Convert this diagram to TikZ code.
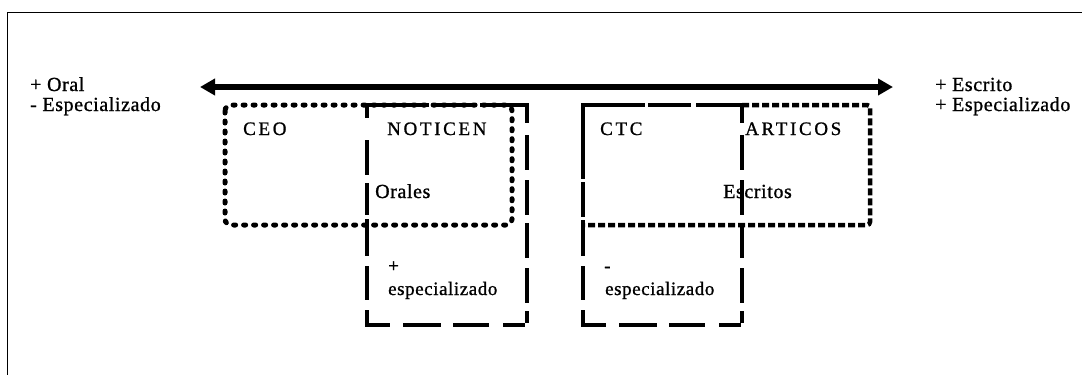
\documentclass[tikz,border=0pt]{standalone}
\usepackage{fontspec}
\setmainfont{Liberation Serif}
\newfontfamily\lblfont[LetterSpace=3, FakeBold=1]{Liberation Serif}
\newfontfamily\capfont[LetterSpace=14, FakeBold=1]{Liberation Serif}
\usetikzlibrary{arrows.meta}
\tikzset{
  lbl/.style={anchor=base west, inner sep=0pt, font=\lblfont\fontsize{20pt}{22pt}\selectfont},
  innerlbl/.style={anchor=base west, inner sep=0pt, font=\lblfont\fontsize{20pt}{22pt}\selectfont},
  smalllbl/.style={anchor=base west, inner sep=0pt, font=\lblfont\fontsize{19pt}{21pt}\selectfont},
  caps/.style={anchor=base west, inner sep=0pt, font=\capfont\fontsize{19pt}{21pt}\selectfont},
  frameline/.style={line width=1.5pt, black},
  bigarrow/.style={line width=6pt, {Triangle[length=15pt,width=16pt]}-{Triangle[length=15pt,width=16pt]}},
  dotbox/.style={line width=5pt, line cap=round, dash pattern=on 2pt off 8pt, rounded corners=6pt},
  dashbox/.style={line width=4.5pt, line cap=rect},
  hzA/.style={dashbox, dash pattern=on 59.5pt off 7.5pt on 38.5pt off 9.5pt on 40.5pt},
  hzB/.style={dashbox, dash pattern=on 20.5pt off 17.5pt on 33.5pt off 16.5pt on 31.5pt off 18.5pt on 17.5pt},
  vtA/.style={dashbox, dash pattern=on 15.5pt off 16.5pt on 30.5pt off 14.5pt on 30.5pt off 12.5pt on 30.5pt off 14.5pt on 30.5pt off 12.5pt on 7.5pt},
  vtB/.style={dashbox, dash pattern=on 10.5pt off 26.5pt on 30.5pt off 12.5pt on 27.5pt off 8.5pt on 32.5pt off 14.5pt on 29.5pt off 14.5pt on 8.5pt},
  vtC/.style={dashbox, dash pattern=on 71.5pt off 7.5pt on 30.5pt off 7.5pt on 31.5pt off 14.5pt on 29.5pt off 14.5pt on 8.5pt},
  dashdot/.style={line width=4.5pt, dash pattern=on 7pt off 3pt, rounded corners=3pt},
}
\begin{document}
\begin{tikzpicture}[x=1pt,y=-1pt]
\useasboundingbox (0,0) rectangle (1082,375);
% frame
\coordinate (fTR) at (1082,12.5);
\coordinate (fTL) at (7.5,12.5);
\coordinate (fBL) at (7.5,375);
\draw[frameline] (fTR) -- (fTL) -- (fBL);
% axis arrow
\coordinate (aL) at (200,87);
\coordinate (aR) at (893,87);
\draw[bigarrow] (aL) -- (aR);
% side labels
\node[lbl] (oral) at (30,91) {+ Oral};
\node[lbl] (espL) at (30,111) {- Especializado};
\node[lbl] (escrito) at (935,91) {+ Escrito};
\node[lbl] (espR) at (935,111) {+ Especializado};
% left dashed box (NOTICEN / + especializado)
\coordinate (d1a) at (367,105); \coordinate (d1b) at (527,105);
\coordinate (d1c) at (527,325); \coordinate (d1d) at (367,325);
\draw[hzA] (d1a) -- (d1b);
\draw[vtA] (d1b) -- (d1c);
\draw[hzB] (d1d) -- (d1c);
\draw[vtB] (d1a) -- (d1d);
% left dotted box (CEO / NOTICEN)
\draw[dotbox] (225,105) rectangle (512,225);
% right dashed box (CTC / - especializado)
\coordinate (d2a) at (583,105); \coordinate (d2b) at (742,105);
\coordinate (d2c) at (742,325); \coordinate (d2d) at (583,325);
\draw[hzA] (d2a) -- (d2b);
\draw[vtA] (d2b) -- (d2c);
\draw[hzB] (d2d) -- (d2c);
\draw[vtC] (d2a) -- (d2d);
% right dash-dot box (CTC / ARTICOS)
\draw[dashdot] (742,105) -- (870,105) -- (870,225) -- (583,225);
% box labels
\node[caps] (ceo) at (243,135) {CEO};
\node[caps] (noticen) at (387,135) {NOTICEN};
\node[caps] (ctc) at (600,135) {CTC};
\node[caps] (articos) at (745,135) {ARTICOS};
\node[innerlbl] (orales) at (375,198) {Orales};
\node[innerlbl] (escritos) at (723,198) {Escritos};
\node[smalllbl] (plus) at (388,272) {+};
\node[smalllbl] (espP) at (388,295) {especializado};
\node[smalllbl] (minus) at (604,272) {-};
\node[smalllbl] (espM) at (605,295) {especializado};
\end{tikzpicture}
\end{document}
